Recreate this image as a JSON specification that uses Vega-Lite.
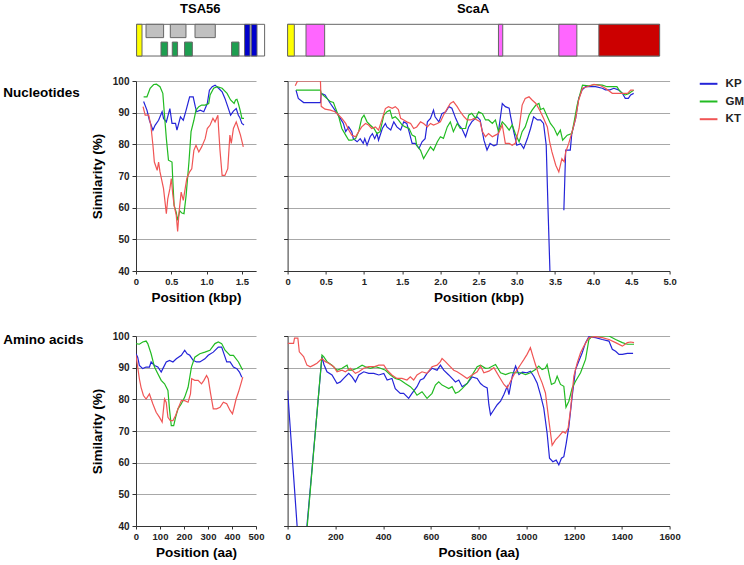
{
  "$schema": "https://vega.github.io/schema/vega-lite/v6.json",
  "background": "white",
  "padding": {"left": 3, "top": 2, "right": 5, "bottom": 5},
  "config": {
    "font": "Liberation Sans",
    "view": {"stroke": null},
    "axis": {"labelFont": "Liberation Sans", "labelFontWeight": "bold", "labelColor": "#222", "labelFontSize": 10, "titleFont": "Liberation Sans", "titleFontWeight": "bold", "titleFontSize": 13.5, "titleColor": "#000", "domainColor": "#333", "tickColor": "#333", "gridColor": "#a8a8a8", "gridWidth": 1.2, "labelFlush": false, "labelOverlap": false},
    "axisX": {"grid": false, "tickSize": 3, "labelPadding": 2, "titlePadding": 5, "labelFontSize": 9.5},
    "axisY": {"grid": true, "tickSize": 4, "labelPadding": 3, "titlePadding": 8},
    "title": {"font": "Liberation Sans", "fontSize": 13.5, "fontWeight": "bold", "color": "#000", "anchor": "start", "frame": "group", "offset": 0},
    "legend": {"labelFont": "Liberation Sans"}
  },
  "datasets": {
    "nucTSA": [
      {"strain":"KP","pos":0.108,"sim":93.5},{"strain":"KP","pos":0.155,"sim":90.8},{"strain":"KP","pos":0.19,"sim":87.6},{"strain":"KP","pos":0.24,"sim":84.5},{"strain":"KP","pos":0.27,"sim":86},{"strain":"KP","pos":0.32,"sim":87.6},{"strain":"KP","pos":0.37,"sim":90.3},{"strain":"KP","pos":0.39,"sim":88.2},{"strain":"KP","pos":0.43,"sim":87.1},{"strain":"KP","pos":0.48,"sim":91.3},{"strain":"KP","pos":0.51,"sim":86.6},{"strain":"KP","pos":0.56,"sim":86.6},{"strain":"KP","pos":0.58,"sim":84.5},{"strain":"KP","pos":0.63,"sim":88.7},{"strain":"KP","pos":0.67,"sim":87.6},{"strain":"KP","pos":0.71,"sim":90.8},{"strain":"KP","pos":0.76,"sim":95},{"strain":"KP","pos":0.81,"sim":95},{"strain":"KP","pos":0.84,"sim":91.9},{"strain":"KP","pos":0.86,"sim":90.3},{"strain":"KP","pos":0.91,"sim":90.8},{"strain":"KP","pos":0.96,"sim":90.3},{"strain":"KP","pos":1.01,"sim":92.9},{"strain":"KP","pos":1.04,"sim":97.1},{"strain":"KP","pos":1.08,"sim":98.2},{"strain":"KP","pos":1.12,"sim":98.7},{"strain":"KP","pos":1.17,"sim":97.7},{"strain":"KP","pos":1.22,"sim":96.6},{"strain":"KP","pos":1.26,"sim":94.5},{"strain":"KP","pos":1.3,"sim":91.9},{"strain":"KP","pos":1.34,"sim":89.2},{"strain":"KP","pos":1.38,"sim":90.5},{"strain":"KP","pos":1.42,"sim":91.3},{"strain":"KP","pos":1.45,"sim":89.2},{"strain":"KP","pos":1.47,"sim":88.5},{"strain":"KP","pos":1.5,"sim":86.6},{"strain":"KP","pos":1.53,"sim":86.1},
      {"strain":"GM","pos":0.108,"sim":95},{"strain":"GM","pos":0.155,"sim":95},{"strain":"GM","pos":0.2,"sim":97.7},{"strain":"GM","pos":0.25,"sim":98.9},{"strain":"GM","pos":0.29,"sim":99},{"strain":"GM","pos":0.34,"sim":98.2},{"strain":"GM","pos":0.38,"sim":96.1},{"strain":"GM","pos":0.4,"sim":90.3},{"strain":"GM","pos":0.43,"sim":81.8},{"strain":"GM","pos":0.46,"sim":75},{"strain":"GM","pos":0.51,"sim":74.4},{"strain":"GM","pos":0.52,"sim":69.2},{"strain":"GM","pos":0.54,"sim":60.7},{"strain":"GM","pos":0.57,"sim":58.5},{"strain":"GM","pos":0.59,"sim":56},{"strain":"GM","pos":0.62,"sim":59},{"strain":"GM","pos":0.65,"sim":58.3},{"strain":"GM","pos":0.68,"sim":58.1},{"strain":"GM","pos":0.71,"sim":63.9},{"strain":"GM","pos":0.75,"sim":74.4},{"strain":"GM","pos":0.78,"sim":84},{"strain":"GM","pos":0.82,"sim":87.6},{"strain":"GM","pos":0.85,"sim":90.8},{"strain":"GM","pos":0.89,"sim":91.9},{"strain":"GM","pos":0.93,"sim":92.4},{"strain":"GM","pos":0.98,"sim":92.4},{"strain":"GM","pos":1.03,"sim":92.9},{"strain":"GM","pos":1.05,"sim":95.6},{"strain":"GM","pos":1.1,"sim":97.7},{"strain":"GM","pos":1.15,"sim":98.2},{"strain":"GM","pos":1.22,"sim":97.7},{"strain":"GM","pos":1.29,"sim":96.1},{"strain":"GM","pos":1.34,"sim":94},{"strain":"GM","pos":1.39,"sim":92.9},{"strain":"GM","pos":1.41,"sim":94},{"strain":"GM","pos":1.43,"sim":94.2},{"strain":"GM","pos":1.45,"sim":92.9},{"strain":"GM","pos":1.48,"sim":90.3},{"strain":"GM","pos":1.5,"sim":88.2},{"strain":"GM","pos":1.53,"sim":88.2},
      {"strain":"KT","pos":0.1,"sim":91.9},{"strain":"KT","pos":0.13,"sim":89.2},{"strain":"KT","pos":0.18,"sim":89.2},{"strain":"KT","pos":0.21,"sim":86.1},{"strain":"KT","pos":0.24,"sim":79.7},{"strain":"KT","pos":0.26,"sim":74.4},{"strain":"KT","pos":0.3,"sim":71.8},{"strain":"KT","pos":0.32,"sim":74.4},{"strain":"KT","pos":0.34,"sim":71.3},{"strain":"KT","pos":0.39,"sim":66},{"strain":"KT","pos":0.43,"sim":58.1},{"strain":"KT","pos":0.45,"sim":62.8},{"strain":"KT","pos":0.48,"sim":66},{"strain":"KT","pos":0.5,"sim":69.2},{"strain":"KT","pos":0.52,"sim":64.4},{"strain":"KT","pos":0.54,"sim":60.7},{"strain":"KT","pos":0.57,"sim":57.6},{"strain":"KT","pos":0.59,"sim":52.5},{"strain":"KT","pos":0.61,"sim":58.6},{"strain":"KT","pos":0.64,"sim":64.9},{"strain":"KT","pos":0.67,"sim":62.3},{"strain":"KT","pos":0.7,"sim":66.5},{"strain":"KT","pos":0.72,"sim":69.2},{"strain":"KT","pos":0.76,"sim":71.3},{"strain":"KT","pos":0.79,"sim":72.3},{"strain":"KT","pos":0.82,"sim":78.1},{"strain":"KT","pos":0.85,"sim":79.7},{"strain":"KT","pos":0.89,"sim":77.6},{"strain":"KT","pos":0.93,"sim":79.2},{"strain":"KT","pos":0.98,"sim":81.8},{"strain":"KT","pos":1.01,"sim":85},{"strain":"KT","pos":1.05,"sim":86.1},{"strain":"KT","pos":1.09,"sim":88.2},{"strain":"KT","pos":1.12,"sim":87.1},{"strain":"KT","pos":1.16,"sim":89.2},{"strain":"KT","pos":1.17,"sim":85},{"strain":"KT","pos":1.19,"sim":78.1},{"strain":"KT","pos":1.22,"sim":70.2},{"strain":"KT","pos":1.26,"sim":70.2},{"strain":"KT","pos":1.3,"sim":72.3},{"strain":"KT","pos":1.33,"sim":82.9},{"strain":"KT","pos":1.35,"sim":80.3},{"strain":"KT","pos":1.38,"sim":85},{"strain":"KT","pos":1.42,"sim":87.1},{"strain":"KT","pos":1.45,"sim":85},{"strain":"KT","pos":1.48,"sim":82.9},{"strain":"KT","pos":1.52,"sim":79.2}
    ],
    "nucScaA": [
      {"strain":"KP","part":1,"pos":0.11,"sim":97.1},{"strain":"KP","part":1,"pos":0.14,"sim":94.5},{"strain":"KP","part":1,"pos":0.21,"sim":93.2},{"strain":"KP","part":1,"pos":0.43,"sim":93.2},{"strain":"KP","part":1,"pos":0.44,"sim":96.1},{"strain":"KP","part":1,"pos":0.49,"sim":95.6},{"strain":"KP","part":1,"pos":0.56,"sim":92.9},{"strain":"KP","part":1,"pos":0.62,"sim":90.8},{"strain":"KP","part":1,"pos":0.69,"sim":88.2},{"strain":"KP","part":1,"pos":0.73,"sim":86.6},{"strain":"KP","part":1,"pos":0.76,"sim":84},{"strain":"KP","part":1,"pos":0.8,"sim":85.5},{"strain":"KP","part":1,"pos":0.84,"sim":84},{"strain":"KP","part":1,"pos":0.86,"sim":81.8},{"strain":"KP","part":1,"pos":0.91,"sim":80.8},{"strain":"KP","part":1,"pos":0.95,"sim":81.8},{"strain":"KP","part":1,"pos":0.99,"sim":80.3},{"strain":"KP","part":1,"pos":1.01,"sim":81.8},{"strain":"KP","part":1,"pos":1.04,"sim":79.7},{"strain":"KP","part":1,"pos":1.08,"sim":82.4},{"strain":"KP","part":1,"pos":1.11,"sim":83.4},{"strain":"KP","part":1,"pos":1.14,"sim":81.8},{"strain":"KP","part":1,"pos":1.17,"sim":83.4},{"strain":"KP","part":1,"pos":1.19,"sim":81.3},{"strain":"KP","part":1,"pos":1.24,"sim":85},{"strain":"KP","part":1,"pos":1.28,"sim":86.6},{"strain":"KP","part":1,"pos":1.3,"sim":85.5},{"strain":"KP","part":1,"pos":1.35,"sim":84.5},{"strain":"KP","part":1,"pos":1.39,"sim":87.1},{"strain":"KP","part":1,"pos":1.43,"sim":85.5},{"strain":"KP","part":1,"pos":1.48,"sim":84.5},{"strain":"KP","part":1,"pos":1.52,"sim":87.1},{"strain":"KP","part":1,"pos":1.56,"sim":86.6},{"strain":"KP","part":1,"pos":1.59,"sim":84},{"strain":"KP","part":1,"pos":1.63,"sim":80.3},{"strain":"KP","part":1,"pos":1.67,"sim":80.3},{"strain":"KP","part":1,"pos":1.72,"sim":78.7},{"strain":"KP","part":1,"pos":1.76,"sim":80.8},{"strain":"KP","part":1,"pos":1.8,"sim":81.8},{"strain":"KP","part":1,"pos":1.83,"sim":87.1},{"strain":"KP","part":1,"pos":1.87,"sim":88.2},{"strain":"KP","part":1,"pos":1.91,"sim":90.8},{"strain":"KP","part":1,"pos":1.93,"sim":88.7},{"strain":"KP","part":1,"pos":1.98,"sim":87.1},{"strain":"KP","part":1,"pos":2.02,"sim":89.7},{"strain":"KP","part":1,"pos":2.07,"sim":90.3},{"strain":"KP","part":1,"pos":2.11,"sim":91.9},{"strain":"KP","part":1,"pos":2.15,"sim":91.4},{"strain":"KP","part":1,"pos":2.2,"sim":88.2},{"strain":"KP","part":1,"pos":2.24,"sim":86.1},{"strain":"KP","part":1,"pos":2.28,"sim":85},{"strain":"KP","part":1,"pos":2.33,"sim":82.4},{"strain":"KP","part":1,"pos":2.37,"sim":85.5},{"strain":"KP","part":1,"pos":2.41,"sim":87.1},{"strain":"KP","part":1,"pos":2.48,"sim":88.7},{"strain":"KP","part":1,"pos":2.52,"sim":87.7},{"strain":"KP","part":1,"pos":2.57,"sim":81.3},{"strain":"KP","part":1,"pos":2.61,"sim":78.2},{"strain":"KP","part":1,"pos":2.65,"sim":80.3},{"strain":"KP","part":1,"pos":2.7,"sim":79.5},{"strain":"KP","part":1,"pos":2.74,"sim":79.9},{"strain":"KP","part":1,"pos":2.76,"sim":84},{"strain":"KP","part":1,"pos":2.81,"sim":92.9},{"strain":"KP","part":1,"pos":2.85,"sim":91.9},{"strain":"KP","part":1,"pos":2.9,"sim":91.4},{"strain":"KP","part":1,"pos":2.92,"sim":88.7},{"strain":"KP","part":1,"pos":2.96,"sim":84},{"strain":"KP","part":1,"pos":3.0,"sim":79.7},{"strain":"KP","part":1,"pos":3.05,"sim":80.2},{"strain":"KP","part":1,"pos":3.09,"sim":78.7},{"strain":"KP","part":1,"pos":3.14,"sim":81.9},{"strain":"KP","part":1,"pos":3.18,"sim":85},{"strain":"KP","part":1,"pos":3.22,"sim":88.7},{"strain":"KP","part":1,"pos":3.27,"sim":87.7},{"strain":"KP","part":1,"pos":3.31,"sim":87.7},{"strain":"KP","part":1,"pos":3.35,"sim":86.6},{"strain":"KP","part":1,"pos":3.385,"sim":79.7},{"strain":"KP","part":1,"pos":3.41,"sim":58.6},{"strain":"KP","part":1,"pos":3.44,"sim":35},
      {"strain":"KP","part":2,"pos":3.616,"sim":59.2},{"strain":"KP","part":2,"pos":3.64,"sim":78.2},{"strain":"KP","part":2,"pos":3.7,"sim":78.2},{"strain":"KP","part":2,"pos":3.72,"sim":83.4},{"strain":"KP","part":2,"pos":3.77,"sim":88.2},{"strain":"KP","part":2,"pos":3.81,"sim":94.5},{"strain":"KP","part":2,"pos":3.855,"sim":97.2},{"strain":"KP","part":2,"pos":3.9,"sim":98.2},{"strain":"KP","part":2,"pos":4.03,"sim":98.2},{"strain":"KP","part":2,"pos":4.12,"sim":97.7},{"strain":"KP","part":2,"pos":4.16,"sim":97.2},{"strain":"KP","part":2,"pos":4.22,"sim":97.2},{"strain":"KP","part":2,"pos":4.27,"sim":97.7},{"strain":"KP","part":2,"pos":4.33,"sim":97.2},{"strain":"KP","part":2,"pos":4.38,"sim":96.2},{"strain":"KP","part":2,"pos":4.42,"sim":94.5},{"strain":"KP","part":2,"pos":4.46,"sim":94.5},{"strain":"KP","part":2,"pos":4.49,"sim":95.6},{"strain":"KP","part":2,"pos":4.53,"sim":96.1},
      {"strain":"GM","part":1,"pos":0.11,"sim":97.1},{"strain":"GM","part":1,"pos":0.43,"sim":97.1},{"strain":"GM","part":1,"pos":0.44,"sim":96.1},{"strain":"GM","part":1,"pos":0.49,"sim":95},{"strain":"GM","part":1,"pos":0.56,"sim":93.5},{"strain":"GM","part":1,"pos":0.6,"sim":93.2},{"strain":"GM","part":1,"pos":0.62,"sim":91.9},{"strain":"GM","part":1,"pos":0.67,"sim":88.7},{"strain":"GM","part":1,"pos":0.71,"sim":85},{"strain":"GM","part":1,"pos":0.76,"sim":82.9},{"strain":"GM","part":1,"pos":0.8,"sim":81.3},{"strain":"GM","part":1,"pos":0.84,"sim":81.3},{"strain":"GM","part":1,"pos":0.89,"sim":81.8},{"strain":"GM","part":1,"pos":0.93,"sim":84},{"strain":"GM","part":1,"pos":0.97,"sim":88.2},{"strain":"GM","part":1,"pos":1.0,"sim":89.2},{"strain":"GM","part":1,"pos":1.04,"sim":87.1},{"strain":"GM","part":1,"pos":1.08,"sim":86.1},{"strain":"GM","part":1,"pos":1.13,"sim":85},{"strain":"GM","part":1,"pos":1.17,"sim":83.4},{"strain":"GM","part":1,"pos":1.21,"sim":84},{"strain":"GM","part":1,"pos":1.26,"sim":89.2},{"strain":"GM","part":1,"pos":1.3,"sim":90.3},{"strain":"GM","part":1,"pos":1.34,"sim":90.8},{"strain":"GM","part":1,"pos":1.37,"sim":88.2},{"strain":"GM","part":1,"pos":1.41,"sim":88.7},{"strain":"GM","part":1,"pos":1.45,"sim":87.7},{"strain":"GM","part":1,"pos":1.5,"sim":86.1},{"strain":"GM","part":1,"pos":1.54,"sim":85.5},{"strain":"GM","part":1,"pos":1.59,"sim":85},{"strain":"GM","part":1,"pos":1.63,"sim":82.9},{"strain":"GM","part":1,"pos":1.67,"sim":82.4},{"strain":"GM","part":1,"pos":1.69,"sim":79.7},{"strain":"GM","part":1,"pos":1.74,"sim":78.1},{"strain":"GM","part":1,"pos":1.78,"sim":75.5},{"strain":"GM","part":1,"pos":1.83,"sim":77.6},{"strain":"GM","part":1,"pos":1.87,"sim":79.2},{"strain":"GM","part":1,"pos":1.91,"sim":78.1},{"strain":"GM","part":1,"pos":1.96,"sim":80.8},{"strain":"GM","part":1,"pos":2.0,"sim":82.4},{"strain":"GM","part":1,"pos":2.04,"sim":81.9},{"strain":"GM","part":1,"pos":2.09,"sim":85.5},{"strain":"GM","part":1,"pos":2.13,"sim":87.1},{"strain":"GM","part":1,"pos":2.17,"sim":84},{"strain":"GM","part":1,"pos":2.22,"sim":86.6},{"strain":"GM","part":1,"pos":2.26,"sim":85},{"strain":"GM","part":1,"pos":2.33,"sim":85},{"strain":"GM","part":1,"pos":2.37,"sim":89.2},{"strain":"GM","part":1,"pos":2.41,"sim":89.8},{"strain":"GM","part":1,"pos":2.46,"sim":88.2},{"strain":"GM","part":1,"pos":2.5,"sim":90.3},{"strain":"GM","part":1,"pos":2.55,"sim":89.7},{"strain":"GM","part":1,"pos":2.59,"sim":87.7},{"strain":"GM","part":1,"pos":2.63,"sim":87.7},{"strain":"GM","part":1,"pos":2.68,"sim":86.6},{"strain":"GM","part":1,"pos":2.72,"sim":87.7},{"strain":"GM","part":1,"pos":2.76,"sim":84},{"strain":"GM","part":1,"pos":2.81,"sim":87.1},{"strain":"GM","part":1,"pos":2.85,"sim":86.1},{"strain":"GM","part":1,"pos":2.9,"sim":84.5},{"strain":"GM","part":1,"pos":2.94,"sim":86.1},{"strain":"GM","part":1,"pos":2.98,"sim":83.4},{"strain":"GM","part":1,"pos":3.03,"sim":80.8},{"strain":"GM","part":1,"pos":3.07,"sim":84},{"strain":"GM","part":1,"pos":3.11,"sim":85.5},{"strain":"GM","part":1,"pos":3.16,"sim":89.2},{"strain":"GM","part":1,"pos":3.2,"sim":90.8},{"strain":"GM","part":1,"pos":3.25,"sim":92.4},{"strain":"GM","part":1,"pos":3.29,"sim":92.9},{"strain":"GM","part":1,"pos":3.31,"sim":91},{"strain":"GM","part":1,"pos":3.35,"sim":91.4},{"strain":"GM","part":1,"pos":3.4,"sim":88.7},{"strain":"GM","part":1,"pos":3.44,"sim":86.6},{"strain":"GM","part":1,"pos":3.49,"sim":85},{"strain":"GM","part":1,"pos":3.53,"sim":82.9},{"strain":"GM","part":1,"pos":3.57,"sim":84.5},{"strain":"GM","part":1,"pos":3.6,"sim":81.3},{"strain":"GM","part":1,"pos":3.66,"sim":82.9},{"strain":"GM","part":1,"pos":3.72,"sim":83.4},{"strain":"GM","part":1,"pos":3.75,"sim":87.1},{"strain":"GM","part":1,"pos":3.79,"sim":92.4},{"strain":"GM","part":1,"pos":3.83,"sim":96.1},{"strain":"GM","part":1,"pos":3.86,"sim":98.7},{"strain":"GM","part":1,"pos":3.94,"sim":98.5},{"strain":"GM","part":1,"pos":4.03,"sim":98.9},{"strain":"GM","part":1,"pos":4.12,"sim":98.7},{"strain":"GM","part":1,"pos":4.18,"sim":98.2},{"strain":"GM","part":1,"pos":4.31,"sim":98.2},{"strain":"GM","part":1,"pos":4.34,"sim":97.1},{"strain":"GM","part":1,"pos":4.38,"sim":96.1},{"strain":"GM","part":1,"pos":4.42,"sim":95.6},{"strain":"GM","part":1,"pos":4.47,"sim":96.1},{"strain":"GM","part":1,"pos":4.51,"sim":96.8},{"strain":"GM","part":1,"pos":4.53,"sim":97.1},
      {"strain":"KT","part":1,"pos":0.1,"sim":98.5},{"strain":"KT","part":1,"pos":0.13,"sim":100},{"strain":"KT","part":1,"pos":0.43,"sim":100},{"strain":"KT","part":1,"pos":0.44,"sim":92},{"strain":"KT","part":1,"pos":0.49,"sim":91.1},{"strain":"KT","part":1,"pos":0.56,"sim":90.8},{"strain":"KT","part":1,"pos":0.62,"sim":90.3},{"strain":"KT","part":1,"pos":0.67,"sim":89.2},{"strain":"KT","part":1,"pos":0.71,"sim":88.2},{"strain":"KT","part":1,"pos":0.76,"sim":86.6},{"strain":"KT","part":1,"pos":0.8,"sim":84.5},{"strain":"KT","part":1,"pos":0.84,"sim":82.9},{"strain":"KT","part":1,"pos":0.89,"sim":82.4},{"strain":"KT","part":1,"pos":0.93,"sim":84},{"strain":"KT","part":1,"pos":0.97,"sim":85.5},{"strain":"KT","part":1,"pos":1.02,"sim":86.6},{"strain":"KT","part":1,"pos":1.06,"sim":86.1},{"strain":"KT","part":1,"pos":1.1,"sim":85},{"strain":"KT","part":1,"pos":1.15,"sim":85.5},{"strain":"KT","part":1,"pos":1.19,"sim":84.5},{"strain":"KT","part":1,"pos":1.24,"sim":88.2},{"strain":"KT","part":1,"pos":1.28,"sim":91.3},{"strain":"KT","part":1,"pos":1.32,"sim":91.9},{"strain":"KT","part":1,"pos":1.37,"sim":91.4},{"strain":"KT","part":1,"pos":1.41,"sim":91.9},{"strain":"KT","part":1,"pos":1.45,"sim":91},{"strain":"KT","part":1,"pos":1.48,"sim":88.2},{"strain":"KT","part":1,"pos":1.52,"sim":87.7},{"strain":"KT","part":1,"pos":1.56,"sim":87.1},{"strain":"KT","part":1,"pos":1.61,"sim":86.6},{"strain":"KT","part":1,"pos":1.65,"sim":85},{"strain":"KT","part":1,"pos":1.69,"sim":85.5},{"strain":"KT","part":1,"pos":1.74,"sim":87.1},{"strain":"KT","part":1,"pos":1.78,"sim":86.6},{"strain":"KT","part":1,"pos":1.83,"sim":85.5},{"strain":"KT","part":1,"pos":1.87,"sim":86.6},{"strain":"KT","part":1,"pos":1.91,"sim":86.1},{"strain":"KT","part":1,"pos":1.96,"sim":86.6},{"strain":"KT","part":1,"pos":2.0,"sim":87.1},{"strain":"KT","part":1,"pos":2.04,"sim":89.2},{"strain":"KT","part":1,"pos":2.09,"sim":91.3},{"strain":"KT","part":1,"pos":2.13,"sim":92.9},{"strain":"KT","part":1,"pos":2.17,"sim":93.5},{"strain":"KT","part":1,"pos":2.22,"sim":91.9},{"strain":"KT","part":1,"pos":2.26,"sim":90.3},{"strain":"KT","part":1,"pos":2.31,"sim":88.7},{"strain":"KT","part":1,"pos":2.35,"sim":87.7},{"strain":"KT","part":1,"pos":2.4,"sim":87.7},{"strain":"KT","part":1,"pos":2.44,"sim":88.2},{"strain":"KT","part":1,"pos":2.48,"sim":87.7},{"strain":"KT","part":1,"pos":2.52,"sim":87.1},{"strain":"KT","part":1,"pos":2.55,"sim":84},{"strain":"KT","part":1,"pos":2.59,"sim":82.4},{"strain":"KT","part":1,"pos":2.63,"sim":83.4},{"strain":"KT","part":1,"pos":2.68,"sim":82.4},{"strain":"KT","part":1,"pos":2.72,"sim":82.9},{"strain":"KT","part":1,"pos":2.76,"sim":83.4},{"strain":"KT","part":1,"pos":2.81,"sim":86.1},{"strain":"KT","part":1,"pos":2.85,"sim":80.3},{"strain":"KT","part":1,"pos":2.9,"sim":80.3},{"strain":"KT","part":1,"pos":2.94,"sim":79.7},{"strain":"KT","part":1,"pos":2.98,"sim":80.3},{"strain":"KT","part":1,"pos":3.03,"sim":85},{"strain":"KT","part":1,"pos":3.07,"sim":92.4},{"strain":"KT","part":1,"pos":3.11,"sim":94.5},{"strain":"KT","part":1,"pos":3.16,"sim":95},{"strain":"KT","part":1,"pos":3.2,"sim":94},{"strain":"KT","part":1,"pos":3.25,"sim":92.9},{"strain":"KT","part":1,"pos":3.31,"sim":90.3},{"strain":"KT","part":1,"pos":3.35,"sim":88.2},{"strain":"KT","part":1,"pos":3.4,"sim":85.5},{"strain":"KT","part":1,"pos":3.43,"sim":80.8},{"strain":"KT","part":1,"pos":3.46,"sim":77.6},{"strain":"KT","part":1,"pos":3.51,"sim":73.4},{"strain":"KT","part":1,"pos":3.55,"sim":71.3},{"strain":"KT","part":1,"pos":3.59,"sim":75.5},{"strain":"KT","part":1,"pos":3.62,"sim":74.5},{"strain":"KT","part":1,"pos":3.64,"sim":77.6},{"strain":"KT","part":1,"pos":3.68,"sim":80.3},{"strain":"KT","part":1,"pos":3.73,"sim":84.5},{"strain":"KT","part":1,"pos":3.77,"sim":88.2},{"strain":"KT","part":1,"pos":3.81,"sim":94},{"strain":"KT","part":1,"pos":3.86,"sim":97.7},{"strain":"KT","part":1,"pos":3.92,"sim":98.2},{"strain":"KT","part":1,"pos":4.01,"sim":98.9},{"strain":"KT","part":1,"pos":4.1,"sim":98.5},{"strain":"KT","part":1,"pos":4.16,"sim":97.7},{"strain":"KT","part":1,"pos":4.25,"sim":96.1},{"strain":"KT","part":1,"pos":4.38,"sim":96.1},{"strain":"KT","part":1,"pos":4.45,"sim":96.1},{"strain":"KT","part":1,"pos":4.49,"sim":97.1},{"strain":"KT","part":1,"pos":4.53,"sim":97.1}
    ],
    "aaTSA": [
      {"strain":"KP","pos":0,"sim":94.4},{"strain":"KP","pos":7,"sim":93.3},{"strain":"KP","pos":14,"sim":90.7},{"strain":"KP","pos":28,"sim":89.7},{"strain":"KP","pos":42,"sim":90.2},{"strain":"KP","pos":56,"sim":90.2},{"strain":"KP","pos":63,"sim":91.8},{"strain":"KP","pos":77,"sim":90.7},{"strain":"KP","pos":91,"sim":90.2},{"strain":"KP","pos":105,"sim":88.6},{"strain":"KP","pos":112,"sim":89.7},{"strain":"KP","pos":126,"sim":91.8},{"strain":"KP","pos":140,"sim":92.3},{"strain":"KP","pos":154,"sim":91.8},{"strain":"KP","pos":168,"sim":92.8},{"strain":"KP","pos":189,"sim":93.9},{"strain":"KP","pos":203,"sim":95.5},{"strain":"KP","pos":213,"sim":94.4},{"strain":"KP","pos":224,"sim":93.9},{"strain":"KP","pos":238,"sim":92.3},{"strain":"KP","pos":252,"sim":91.8},{"strain":"KP","pos":266,"sim":91.8},{"strain":"KP","pos":287,"sim":92.8},{"strain":"KP","pos":301,"sim":93.9},{"strain":"KP","pos":322,"sim":94.9},{"strain":"KP","pos":343,"sim":96.5},{"strain":"KP","pos":357,"sim":96.5},{"strain":"KP","pos":364,"sim":94.9},{"strain":"KP","pos":378,"sim":91.8},{"strain":"KP","pos":392,"sim":91.8},{"strain":"KP","pos":406,"sim":90.2},{"strain":"KP","pos":420,"sim":89.7},{"strain":"KP","pos":431,"sim":88.6},{"strain":"KP","pos":441,"sim":87},
      {"strain":"GM","pos":0,"sim":97.6},{"strain":"GM","pos":14,"sim":97.4},{"strain":"GM","pos":28,"sim":98.1},{"strain":"GM","pos":42,"sim":98.4},{"strain":"GM","pos":49,"sim":97.6},{"strain":"GM","pos":63,"sim":94.4},{"strain":"GM","pos":77,"sim":90.2},{"strain":"GM","pos":91,"sim":88.1},{"strain":"GM","pos":105,"sim":86},{"strain":"GM","pos":119,"sim":84.9},{"strain":"GM","pos":133,"sim":82.8},{"strain":"GM","pos":140,"sim":76.5},{"strain":"GM","pos":147,"sim":71.7},{"strain":"GM","pos":157,"sim":71.7},{"strain":"GM","pos":165,"sim":74.3},{"strain":"GM","pos":175,"sim":77},{"strain":"GM","pos":189,"sim":78.6},{"strain":"GM","pos":203,"sim":80.7},{"strain":"GM","pos":217,"sim":83.8},{"strain":"GM","pos":231,"sim":90.2},{"strain":"GM","pos":245,"sim":93.3},{"strain":"GM","pos":266,"sim":94.4},{"strain":"GM","pos":287,"sim":94.9},{"strain":"GM","pos":308,"sim":95.5},{"strain":"GM","pos":329,"sim":97.6},{"strain":"GM","pos":343,"sim":98.1},{"strain":"GM","pos":357,"sim":97.6},{"strain":"GM","pos":371,"sim":95.5},{"strain":"GM","pos":392,"sim":93.9},{"strain":"GM","pos":406,"sim":93.9},{"strain":"GM","pos":427,"sim":91.8},{"strain":"GM","pos":441,"sim":89.7},{"strain":"GM","pos":445,"sim":89.3},
      {"strain":"KT","pos":0,"sim":93.9},{"strain":"KT","pos":7,"sim":90.2},{"strain":"KT","pos":14,"sim":86.5},{"strain":"KT","pos":21,"sim":83.8},{"strain":"KT","pos":31,"sim":81.2},{"strain":"KT","pos":42,"sim":80.1},{"strain":"KT","pos":56,"sim":81.7},{"strain":"KT","pos":70,"sim":78.6},{"strain":"KT","pos":84,"sim":75.9},{"strain":"KT","pos":98,"sim":74.3},{"strain":"KT","pos":109,"sim":72.8},{"strain":"KT","pos":119,"sim":80.1},{"strain":"KT","pos":126,"sim":79},{"strain":"KT","pos":133,"sim":74.3},{"strain":"KT","pos":143,"sim":73.3},{"strain":"KT","pos":154,"sim":73.3},{"strain":"KT","pos":165,"sim":74.9},{"strain":"KT","pos":175,"sim":77},{"strain":"KT","pos":189,"sim":79.6},{"strain":"KT","pos":203,"sim":79.6},{"strain":"KT","pos":217,"sim":79.1},{"strain":"KT","pos":227,"sim":81.7},{"strain":"KT","pos":232,"sim":86.5},{"strain":"KT","pos":245,"sim":86},{"strain":"KT","pos":259,"sim":86},{"strain":"KT","pos":273,"sim":84.9},{"strain":"KT","pos":283,"sim":86},{"strain":"KT","pos":294,"sim":87.5},{"strain":"KT","pos":301,"sim":86.5},{"strain":"KT","pos":311,"sim":81.7},{"strain":"KT","pos":322,"sim":77},{"strain":"KT","pos":336,"sim":77},{"strain":"KT","pos":350,"sim":77.5},{"strain":"KT","pos":364,"sim":79.1},{"strain":"KT","pos":378,"sim":78.6},{"strain":"KT","pos":392,"sim":76.5},{"strain":"KT","pos":402,"sim":75.4},{"strain":"KT","pos":409,"sim":77.5},{"strain":"KT","pos":417,"sim":80.1},{"strain":"KT","pos":427,"sim":82.3},{"strain":"KT","pos":437,"sim":84.9},{"strain":"KT","pos":445,"sim":87}
    ],
    "aaScaA": [
      {"strain":"KP","pos":0,"sim":82.8},{"strain":"KP","pos":58,"sim":20.5},{"strain":"KP","pos":144,"sim":93.5},{"strain":"KP","pos":152,"sim":91},{"strain":"KP","pos":165,"sim":88.7},{"strain":"KP","pos":186,"sim":87.7},{"strain":"KP","pos":207,"sim":85},{"strain":"KP","pos":221,"sim":85.5},{"strain":"KP","pos":235,"sim":86.6},{"strain":"KP","pos":256,"sim":88.2},{"strain":"KP","pos":270,"sim":87.1},{"strain":"KP","pos":284,"sim":85.5},{"strain":"KP","pos":298,"sim":87.7},{"strain":"KP","pos":319,"sim":88.7},{"strain":"KP","pos":340,"sim":88.2},{"strain":"KP","pos":361,"sim":88.2},{"strain":"KP","pos":382,"sim":87.7},{"strain":"KP","pos":403,"sim":88.2},{"strain":"KP","pos":417,"sim":86.1},{"strain":"KP","pos":437,"sim":86.6},{"strain":"KP","pos":451,"sim":83.4},{"strain":"KP","pos":472,"sim":81.9},{"strain":"KP","pos":486,"sim":81.9},{"strain":"KP","pos":507,"sim":80.3},{"strain":"KP","pos":521,"sim":81.9},{"strain":"KP","pos":542,"sim":84},{"strain":"KP","pos":556,"sim":86.1},{"strain":"KP","pos":570,"sim":86.6},{"strain":"KP","pos":584,"sim":88.2},{"strain":"KP","pos":605,"sim":89.8},{"strain":"KP","pos":626,"sim":89.2},{"strain":"KP","pos":640,"sim":90.8},{"strain":"KP","pos":654,"sim":89.2},{"strain":"KP","pos":675,"sim":87.7},{"strain":"KP","pos":689,"sim":86.6},{"strain":"KP","pos":703,"sim":85.5},{"strain":"KP","pos":717,"sim":86.1},{"strain":"KP","pos":731,"sim":84},{"strain":"KP","pos":752,"sim":85},{"strain":"KP","pos":773,"sim":87.1},{"strain":"KP","pos":794,"sim":86.6},{"strain":"KP","pos":808,"sim":85},{"strain":"KP","pos":822,"sim":84.1},{"strain":"KP","pos":836,"sim":83.6},{"strain":"KP","pos":843,"sim":78.3},{"strain":"KP","pos":850,"sim":75.1},{"strain":"KP","pos":864,"sim":76.7},{"strain":"KP","pos":878,"sim":78.3},{"strain":"KP","pos":892,"sim":79.4},{"strain":"KP","pos":906,"sim":81.5},{"strain":"KP","pos":920,"sim":84.1},{"strain":"KP","pos":927,"sim":81.5},{"strain":"KP","pos":941,"sim":87.3},{"strain":"KP","pos":955,"sim":90.5},{"strain":"KP","pos":969,"sim":87.8},{"strain":"KP","pos":983,"sim":88.6},{"strain":"KP","pos":1003,"sim":88.4},{"strain":"KP","pos":1017,"sim":88.9},{"strain":"KP","pos":1031,"sim":87.3},{"strain":"KP","pos":1045,"sim":85.2},{"strain":"KP","pos":1059,"sim":81.5},{"strain":"KP","pos":1073,"sim":77.2},{"strain":"KP","pos":1087,"sim":69.3},{"strain":"KP","pos":1097,"sim":61.4},{"strain":"KP","pos":1111,"sim":60.3},{"strain":"KP","pos":1125,"sim":60.8},{"strain":"KP","pos":1136,"sim":59.3},{"strain":"KP","pos":1147,"sim":61.4},{"strain":"KP","pos":1157,"sim":61.9},{"strain":"KP","pos":1167,"sim":66.1},{"strain":"KP","pos":1178,"sim":71.4},{"strain":"KP","pos":1192,"sim":81},{"strain":"KP","pos":1206,"sim":89.4},{"strain":"KP","pos":1220,"sim":92.1},{"strain":"KP","pos":1234,"sim":94.7},{"strain":"KP","pos":1248,"sim":97.9},{"strain":"KP","pos":1262,"sim":99.8},{"strain":"KP","pos":1290,"sim":99.5},{"strain":"KP","pos":1318,"sim":98.9},{"strain":"KP","pos":1346,"sim":98.4},{"strain":"KP","pos":1360,"sim":95.8},{"strain":"KP","pos":1374,"sim":95.2},{"strain":"KP","pos":1388,"sim":94.2},{"strain":"KP","pos":1402,"sim":94.2},{"strain":"KP","pos":1423,"sim":94.5},{"strain":"KP","pos":1447,"sim":94.5},
      {"strain":"GM","pos":80,"sim":38},{"strain":"GM","pos":144,"sim":94},{"strain":"GM","pos":151,"sim":93.5},{"strain":"GM","pos":165,"sim":91.9},{"strain":"GM","pos":186,"sim":90.8},{"strain":"GM","pos":207,"sim":89.2},{"strain":"GM","pos":228,"sim":89.8},{"strain":"GM","pos":249,"sim":90.8},{"strain":"GM","pos":256,"sim":89.2},{"strain":"GM","pos":270,"sim":89.2},{"strain":"GM","pos":291,"sim":89.8},{"strain":"GM","pos":312,"sim":90.8},{"strain":"GM","pos":326,"sim":90.3},{"strain":"GM","pos":347,"sim":89.8},{"strain":"GM","pos":368,"sim":90.3},{"strain":"GM","pos":389,"sim":89.8},{"strain":"GM","pos":410,"sim":89.2},{"strain":"GM","pos":431,"sim":87.7},{"strain":"GM","pos":451,"sim":86.6},{"strain":"GM","pos":472,"sim":86.1},{"strain":"GM","pos":493,"sim":85},{"strain":"GM","pos":514,"sim":84},{"strain":"GM","pos":528,"sim":82.9},{"strain":"GM","pos":542,"sim":81.3},{"strain":"GM","pos":563,"sim":82.4},{"strain":"GM","pos":584,"sim":80.3},{"strain":"GM","pos":605,"sim":81.9},{"strain":"GM","pos":619,"sim":84.5},{"strain":"GM","pos":633,"sim":85.5},{"strain":"GM","pos":647,"sim":84.5},{"strain":"GM","pos":661,"sim":84},{"strain":"GM","pos":675,"sim":83.4},{"strain":"GM","pos":689,"sim":84},{"strain":"GM","pos":703,"sim":81.9},{"strain":"GM","pos":717,"sim":82.4},{"strain":"GM","pos":731,"sim":83.4},{"strain":"GM","pos":752,"sim":85},{"strain":"GM","pos":773,"sim":87.7},{"strain":"GM","pos":794,"sim":90.3},{"strain":"GM","pos":808,"sim":90.8},{"strain":"GM","pos":829,"sim":89.8},{"strain":"GM","pos":843,"sim":89.9},{"strain":"GM","pos":871,"sim":91},{"strain":"GM","pos":892,"sim":88.4},{"strain":"GM","pos":913,"sim":87.8},{"strain":"GM","pos":934,"sim":88.4},{"strain":"GM","pos":955,"sim":88.4},{"strain":"GM","pos":976,"sim":88.4},{"strain":"GM","pos":997,"sim":87.8},{"strain":"GM","pos":1017,"sim":88.4},{"strain":"GM","pos":1038,"sim":89.4},{"strain":"GM","pos":1052,"sim":90.5},{"strain":"GM","pos":1066,"sim":89.4},{"strain":"GM","pos":1080,"sim":89.9},{"strain":"GM","pos":1087,"sim":91},{"strain":"GM","pos":1097,"sim":87.3},{"strain":"GM","pos":1105,"sim":84.7},{"strain":"GM","pos":1119,"sim":85.2},{"strain":"GM","pos":1129,"sim":87.3},{"strain":"GM","pos":1143,"sim":84.7},{"strain":"GM","pos":1157,"sim":84.1},{"strain":"GM","pos":1166,"sim":77.5},{"strain":"GM","pos":1178,"sim":79.4},{"strain":"GM","pos":1192,"sim":83.6},{"strain":"GM","pos":1206,"sim":85.7},{"strain":"GM","pos":1227,"sim":88.4},{"strain":"GM","pos":1248,"sim":92.6},{"strain":"GM","pos":1262,"sim":98.9},{"strain":"GM","pos":1276,"sim":100},{"strain":"GM","pos":1346,"sim":100},{"strain":"GM","pos":1374,"sim":98.9},{"strain":"GM","pos":1402,"sim":97.9},{"strain":"GM","pos":1423,"sim":97.4},{"strain":"GM","pos":1451,"sim":97.4},
      {"strain":"KT","pos":0,"sim":97.7},{"strain":"KT","pos":25,"sim":97.7},{"strain":"KT","pos":29,"sim":99.3},{"strain":"KT","pos":43,"sim":99.3},{"strain":"KT","pos":49,"sim":95},{"strain":"KT","pos":67,"sim":93.5},{"strain":"KT","pos":81,"sim":90.8},{"strain":"KT","pos":95,"sim":90.3},{"strain":"KT","pos":109,"sim":90.8},{"strain":"KT","pos":123,"sim":91.4},{"strain":"KT","pos":144,"sim":92.9},{"strain":"KT","pos":158,"sim":91.9},{"strain":"KT","pos":172,"sim":91.4},{"strain":"KT","pos":193,"sim":90.3},{"strain":"KT","pos":207,"sim":88.7},{"strain":"KT","pos":228,"sim":89.2},{"strain":"KT","pos":242,"sim":88.7},{"strain":"KT","pos":263,"sim":89.8},{"strain":"KT","pos":284,"sim":88.2},{"strain":"KT","pos":298,"sim":88.7},{"strain":"KT","pos":319,"sim":89.8},{"strain":"KT","pos":340,"sim":90.3},{"strain":"KT","pos":361,"sim":90.3},{"strain":"KT","pos":382,"sim":90.8},{"strain":"KT","pos":403,"sim":90.8},{"strain":"KT","pos":417,"sim":89.2},{"strain":"KT","pos":437,"sim":87.7},{"strain":"KT","pos":458,"sim":86.6},{"strain":"KT","pos":479,"sim":86.6},{"strain":"KT","pos":500,"sim":86.1},{"strain":"KT","pos":514,"sim":87.1},{"strain":"KT","pos":528,"sim":86.1},{"strain":"KT","pos":542,"sim":87.7},{"strain":"KT","pos":563,"sim":88.7},{"strain":"KT","pos":584,"sim":88.2},{"strain":"KT","pos":605,"sim":90.3},{"strain":"KT","pos":626,"sim":90.8},{"strain":"KT","pos":640,"sim":91.9},{"strain":"KT","pos":647,"sim":92.9},{"strain":"KT","pos":661,"sim":91.9},{"strain":"KT","pos":675,"sim":90.8},{"strain":"KT","pos":696,"sim":89.2},{"strain":"KT","pos":710,"sim":88.7},{"strain":"KT","pos":731,"sim":87.7},{"strain":"KT","pos":752,"sim":86.6},{"strain":"KT","pos":773,"sim":87.7},{"strain":"KT","pos":794,"sim":88.7},{"strain":"KT","pos":808,"sim":90.5},{"strain":"KT","pos":822,"sim":88.4},{"strain":"KT","pos":843,"sim":88.9},{"strain":"KT","pos":864,"sim":90},{"strain":"KT","pos":885,"sim":87.3},{"strain":"KT","pos":906,"sim":84.7},{"strain":"KT","pos":920,"sim":83.6},{"strain":"KT","pos":934,"sim":85.7},{"strain":"KT","pos":948,"sim":87.8},{"strain":"KT","pos":962,"sim":89.4},{"strain":"KT","pos":976,"sim":91},{"strain":"KT","pos":990,"sim":92.6},{"strain":"KT","pos":1003,"sim":94.2},{"strain":"KT","pos":1017,"sim":96.3},{"strain":"KT","pos":1027,"sim":93.7},{"strain":"KT","pos":1038,"sim":91},{"strain":"KT","pos":1052,"sim":87.8},{"strain":"KT","pos":1066,"sim":85.2},{"strain":"KT","pos":1080,"sim":82},{"strain":"KT","pos":1094,"sim":73.5},{"strain":"KT","pos":1108,"sim":65.5},{"strain":"KT","pos":1122,"sim":67.2},{"strain":"KT","pos":1136,"sim":68.3},{"strain":"KT","pos":1153,"sim":69.8},{"strain":"KT","pos":1164,"sim":69.3},{"strain":"KT","pos":1175,"sim":70.9},{"strain":"KT","pos":1185,"sim":76.7},{"strain":"KT","pos":1199,"sim":87.3},{"strain":"KT","pos":1213,"sim":91.5},{"strain":"KT","pos":1227,"sim":94.7},{"strain":"KT","pos":1241,"sim":96.8},{"strain":"KT","pos":1262,"sim":99.5},{"strain":"KT","pos":1290,"sim":99.8},{"strain":"KT","pos":1318,"sim":99.5},{"strain":"KT","pos":1346,"sim":98.9},{"strain":"KT","pos":1374,"sim":97.9},{"strain":"KT","pos":1402,"sim":96.8},{"strain":"KT","pos":1423,"sim":97.9},{"strain":"KT","pos":1437,"sim":98.1},{"strain":"KT","pos":1451,"sim":97.9}
    ],
    "tsaMap": [
      {"kind":"gene","start":0.0085,"end":1.822,"lo":0,"hi":1},
      {"kind":"signal peptide","start":0.0085,"end":0.085,"lo":0,"hi":1},
      {"kind":"antigenic domain","start":0.142,"end":0.391,"lo":0.58,"hi":1},
      {"kind":"antigenic domain","start":0.486,"end":0.708,"lo":0.58,"hi":1},
      {"kind":"antigenic domain","start":0.836,"end":1.123,"lo":0.58,"hi":1},
      {"kind":"variable domain","start":0.354,"end":0.448,"lo":0,"hi":0.44},
      {"kind":"variable domain","start":0.514,"end":0.589,"lo":0,"hi":0.44},
      {"kind":"variable domain","start":0.688,"end":0.798,"lo":0,"hi":0.44},
      {"kind":"variable domain","start":1.354,"end":1.459,"lo":0,"hi":0.44},
      {"kind":"transmembrane","start":1.538,"end":1.615,"lo":0,"hi":1},
      {"kind":"transmembrane","start":1.633,"end":1.714,"lo":0,"hi":1}
    ],
    "scaMap": [
      {"kind":"gene","start":0,"end":4.869,"lo":0,"hi":1},
      {"kind":"signal peptide","start":0,"end":0.088,"lo":0,"hi":1},
      {"kind":"repeat","start":0.241,"end":0.485,"lo":0,"hi":1},
      {"kind":"repeat","start":2.76,"end":2.816,"lo":0,"hi":1},
      {"kind":"repeat","start":3.55,"end":3.786,"lo":0,"hi":1},
      {"kind":"autotransporter","start":4.074,"end":4.869,"lo":0,"hi":1}
    ]
  },
  "columns": 2,
  "bounds": "flush",
  "spacing": {"row": 65, "column": 31.6},
  "resolve": {"scale": {"x": "independent", "y": "independent", "stroke": "independent", "fill": "independent"}, "legend": {"stroke": "independent", "fill": "independent"}},
  "concat": [
    {
      "width": 120, "height": 190,
      "title": {"text": "Nucleotides", "dx": -132.7, "dy": 100.4},
      "resolve": {"scale": {"x": "independent", "y": "independent"}},
      "layer": [
        {
          "data": {"name": "nucTSA"},
          "mark": {"type": "line", "strokeWidth": 1.2, "clip": true},
          "encoding": {
            "x": {"field": "pos", "type": "quantitative", "scale": {"domain": [0, 1.7], "nice": false}, "axis": {"orient": "bottom", "title": "Position (kbp)", "values": [0, 0.5, 1, 1.5], "labelExpr": "datum.value === 0 ? '0' : format(datum.value, '.1f')"}},
            "y": {"field": "sim", "type": "quantitative", "scale": {"domain": [40, 100], "nice": false}, "axis": {"orient": "left", "title": "Similarity (%)", "values": [40, 50, 60, 70, 80, 90, 100]}},
            "stroke": {"field": "strain", "type": "nominal", "scale": {"domain": ["KP", "GM", "KT"], "range": ["#2424d8", "#22bb22", "#f05555"]}, "legend": null}
          }
        },
        {
          "data": {"name": "tsaMap"},
          "mark": {"type": "rect", "stroke": "#666", "strokeWidth": 1},
          "encoding": {
            "x": {"field": "start", "type": "quantitative", "scale": {"domain": [0, 1.7], "nice": false}, "axis": null},
            "x2": {"field": "end"},
            "y": {"field": "lo", "type": "quantitative", "scale": {"domain": [-6.782, -0.788], "nice": false, "zero": false}, "axis": null},
            "y2": {"field": "hi"},
            "fill": {"field": "kind", "type": "nominal", "scale": {"domain": ["gene", "signal peptide", "antigenic domain", "variable domain", "transmembrane", "repeat", "autotransporter"], "range": ["#ffffff", "#ffff00", "#c0c0c0", "#1e9e50", "#0000cc", "#ff66ff", "#cc0000"]}, "legend": null}
          }
        },
        {
          "data": {"values": [{}]},
          "mark": {"type": "text", "fontSize": 13, "fontWeight": "bold", "baseline": "middle", "align": "center", "color": "#000"},
          "encoding": {
            "x": {"datum": 0.911, "type": "quantitative", "scale": {"domain": [0, 1.7], "nice": false}, "axis": null},
            "y": {"datum": 1.496, "type": "quantitative", "scale": {"domain": [-6.782, -0.788], "nice": false, "zero": false}, "axis": null},
            "text": {"value": "TSA56"}
          }
        }
      ]
    },
    {
      "width": 382, "height": 190,
      "resolve": {"scale": {"x": "independent", "y": "independent"}},
      "layer": [
        {
          "data": {"name": "nucScaA"},
          "mark": {"type": "line", "strokeWidth": 1.2, "clip": true},
          "encoding": {
            "x": {"field": "pos", "type": "quantitative", "scale": {"domain": [0, 5], "nice": false}, "axis": {"orient": "bottom", "title": "Position (kbp)", "values": [0, 0.5, 1, 1.5, 2, 2.5, 3, 3.5, 4, 4.5, 5], "labelExpr": "datum.value === 0 ? '0' : datum.value === 1 ? '1' : format(datum.value, '.1f')"}},
            "y": {"field": "sim", "type": "quantitative", "scale": {"domain": [40, 100], "nice": false}, "axis": {"orient": "left", "title": null, "labels": false, "values": [40, 50, 60, 70, 80, 90, 100]}},
            "detail": {"field": "part", "type": "nominal"},
            "stroke": {"field": "strain", "type": "nominal", "scale": {"domain": ["KP", "GM", "KT"], "range": ["#2424d8", "#22bb22", "#f05555"]}, "legend": {"orient": "none", "legendX": 411, "legendY": -7.2, "title": null, "symbolType": "stroke", "symbolSize": 313, "symbolStrokeWidth": 2, "labelFontSize": 11.5, "labelFontWeight": "bold", "labelColor": "#222", "labelOffset": 7, "rowPadding": 1.7}}
          }
        },
        {
          "data": {"name": "scaMap"},
          "mark": {"type": "rect", "stroke": "#666", "strokeWidth": 1},
          "encoding": {
            "x": {"field": "start", "type": "quantitative", "scale": {"domain": [0, 5], "nice": false}, "axis": null},
            "x2": {"field": "end"},
            "y": {"field": "lo", "type": "quantitative", "scale": {"domain": [-6.782, -0.788], "nice": false, "zero": false}, "axis": null},
            "y2": {"field": "hi"},
            "fill": {"field": "kind", "type": "nominal", "scale": {"domain": ["gene", "signal peptide", "antigenic domain", "variable domain", "transmembrane", "repeat", "autotransporter"], "range": ["#ffffff", "#ffff00", "#c0c0c0", "#1e9e50", "#0000cc", "#ff66ff", "#cc0000"]}, "legend": null}
          }
        },
        {
          "data": {"values": [{}]},
          "mark": {"type": "text", "fontSize": 13, "fontWeight": "bold", "baseline": "middle", "align": "center", "color": "#000"},
          "encoding": {
            "x": {"datum": 2.429, "type": "quantitative", "scale": {"domain": [0, 5], "nice": false}, "axis": null},
            "y": {"datum": 1.496, "type": "quantitative", "scale": {"domain": [-6.782, -0.788], "nice": false, "zero": false}, "axis": null},
            "text": {"value": "ScaA"}
          }
        }
      ]
    },
    {
      "width": 120, "height": 190,
      "title": {"text": "Amino acids", "dx": -132.7, "dy": 19.6},
      "data": {"name": "aaTSA"},
      "mark": {"type": "line", "strokeWidth": 1.2, "clip": true},
      "encoding": {
        "x": {"field": "pos", "type": "quantitative", "scale": {"domain": [0, 500], "nice": false}, "axis": {"title": "Position (aa)", "format": "d", "values": [0, 100, 200, 300, 400, 500]}},
        "y": {"field": "sim", "type": "quantitative", "scale": {"domain": [40, 100], "nice": false}, "axis": {"title": "Similarity (%)", "values": [40, 50, 60, 70, 80, 90, 100]}},
        "stroke": {"field": "strain", "type": "nominal", "scale": {"domain": ["KP", "GM", "KT"], "range": ["#2424d8", "#22bb22", "#f05555"]}, "legend": null}
      }
    },
    {
      "width": 382, "height": 190,
      "data": {"name": "aaScaA"},
      "mark": {"type": "line", "strokeWidth": 1.2, "clip": true},
      "encoding": {
        "x": {"field": "pos", "type": "quantitative", "scale": {"domain": [0, 1600], "nice": false}, "axis": {"title": "Position (aa)", "format": "d", "values": [0, 200, 400, 600, 800, 1000, 1200, 1400, 1600]}},
        "y": {"field": "sim", "type": "quantitative", "scale": {"domain": [40, 100], "nice": false}, "axis": {"title": null, "labels": false, "values": [40, 50, 60, 70, 80, 90, 100]}},
        "stroke": {"field": "strain", "type": "nominal", "scale": {"domain": ["KP", "GM", "KT"], "range": ["#2424d8", "#22bb22", "#f05555"]}, "legend": null}
      }
    }
  ]
}
